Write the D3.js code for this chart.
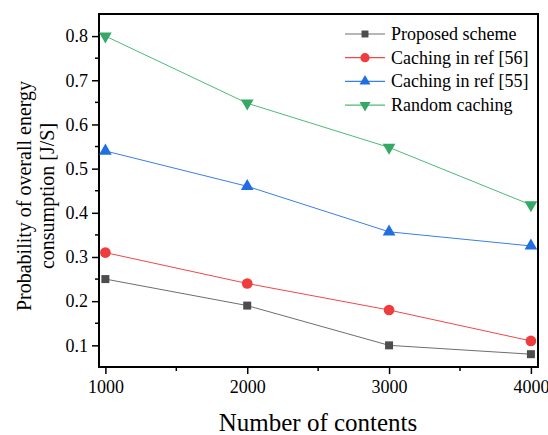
<!DOCTYPE html>
<html lang="en">
<head>
    <meta charset="UTF-8">
    <script src="https://d3js.org/d3.v7.min.js"></script>
    <style>
        body { margin: 0; background: white; }
        text { font-family: "Liberation Serif", "Times New Roman", serif; fill: #000; }
    </style>
</head>
<body>
    <svg id="chart" width="548" height="435"></svg>

    <script>
        const contents = [1000, 2000, 3000, 4000];
        const proposed = [0.25, 0.19, 0.10, 0.08];
        const ref56 = [0.31, 0.24, 0.18, 0.11];
        const ref55 = [0.54, 0.46, 0.357, 0.325];
        const randomCaching = [0.80, 0.648, 0.548, 0.418];
        const yTicks = [0.1, 0.2, 0.3, 0.4, 0.5, 0.6, 0.7, 0.8];

        const series = [
            { name: "Proposed scheme", values: proposed, line: "#6e6e6e", fill: "#4d4d4d", symbol: d3.symbolSquare, size: 64, rot: 0 },
            { name: "Caching in ref [56]", values: ref56, line: "#f04848", fill: "#ef3c3c", symbol: d3.symbolCircle, size: 90, rot: 0 },
            { name: "Caching in ref [55]", values: ref55, line: "#3a7fe6", fill: "#1f6fe0", symbol: d3.symbolTriangle, size: 70, rot: 0 },
            { name: "Random caching", values: randomCaching, line: "#4cbb78", fill: "#35a865", symbol: d3.symbolTriangle, size: 70, rot: 180 }
        ];

        const width = 548, height = 435;
        const margin = { top: 14, right: 10, bottom: 68, left: 99 };
        const serif = "'Liberation Serif', 'Times New Roman', serif";
        const svg = d3.select("#chart");

        const x = d3.scaleLinear().domain([955, 4050]).range([margin.left, width - margin.right]);
        const y = d3.scaleLinear().domain([0.051, 0.85]).range([height - margin.bottom, margin.top]);

        // axes
        const xAxis = svg.append("g")
            .attr("transform", `translate(0,${height - margin.bottom})`)
            .call(d3.axisBottom(x).tickValues(contents).tickSize(7).tickPadding(6).tickFormat(d3.format("d")));
        xAxis.append("g").selectAll("line")
            .data([1500, 2500, 3500]).enter().append("line")
            .attr("x1", d => x(d)).attr("x2", d => x(d)).attr("y1", 0).attr("y2", 4)
            .attr("stroke", "#000").attr("stroke-width", 1.5);

        const yAxis = svg.append("g")
            .attr("transform", `translate(${margin.left},0)`)
            .call(d3.axisLeft(y).tickValues(yTicks).tickSize(7).tickPadding(4).tickFormat(d3.format(".1f")));
        yAxis.append("g").selectAll("line")
            .data([0.15, 0.25, 0.35, 0.45, 0.55, 0.65, 0.75]).enter().append("line")
            .attr("x1", 0).attr("x2", -4).attr("y1", d => y(d)).attr("y2", d => y(d))
            .attr("stroke", "#000").attr("stroke-width", 1.5);

        svg.selectAll(".domain").remove();
        svg.selectAll("g").attr("font-family", serif);
        svg.selectAll(".tick line").attr("stroke-width", 1.5);
        svg.selectAll(".tick text").style("font-size", "18px").style("font-family", serif);

        // frame
        svg.append("rect")
            .attr("x", margin.left).attr("y", margin.top)
            .attr("width", width - margin.left - margin.right)
            .attr("height", height - margin.top - margin.bottom)
            .attr("fill", "none").attr("stroke", "#000").attr("stroke-width", 2);

        // lines and markers
        const line = d3.line().x((d, i) => x(contents[i])).y(d => y(d));
        series.forEach(s => {
            svg.append("path")
                .datum(s.values)
                .attr("d", line)
                .attr("fill", "none")
                .attr("stroke", s.line)
                .attr("stroke-width", 1);
            svg.selectAll(null)
                .data(s.values).enter().append("path")
                .attr("d", d3.symbol().type(s.symbol).size(s.size))
                .attr("transform", (d, i) => `translate(${x(contents[i])},${y(d)}) rotate(${s.rot})`)
                .attr("fill", s.fill);
        });

        // legend
        const legend = svg.append("g").attr("transform", "translate(345,34)");
        series.forEach((s, i) => {
            const g = legend.append("g").attr("transform", `translate(0,${i * 23.7})`);
            g.append("line").attr("x1", 0).attr("x2", 40).attr("y1", 0).attr("y2", 0)
                .attr("stroke", s.line).attr("stroke-width", 1.2);
            g.append("path")
                .attr("d", d3.symbol().type(s.symbol).size(s.size * 0.75))
                .attr("transform", `translate(20,0) rotate(${s.rot})`)
                .attr("fill", s.fill);
            g.append("text").attr("x", 46).attr("y", 0).attr("dy", "0.33em")
                .style("font-size", "18px").style("font-family", serif).text(s.name);
        });

        // axis titles
        svg.append("text")
            .attr("x", 318).attr("y", 431)
            .attr("text-anchor", "middle")
            .style("font-size", "25px").style("font-family", serif)
            .text("Number of contents");

        const yTitle = svg.append("text")
            .attr("transform", "translate(31,196) rotate(-90)")
            .attr("text-anchor", "middle")
            .style("font-size", "20px").style("font-family", serif);
        yTitle.append("tspan").attr("x", 0).attr("y", 0).text("Probability of overall energy");
        yTitle.append("tspan").attr("x", 0).attr("y", 23).text("consumption [J/S]");
    </script>
</body>
</html>
